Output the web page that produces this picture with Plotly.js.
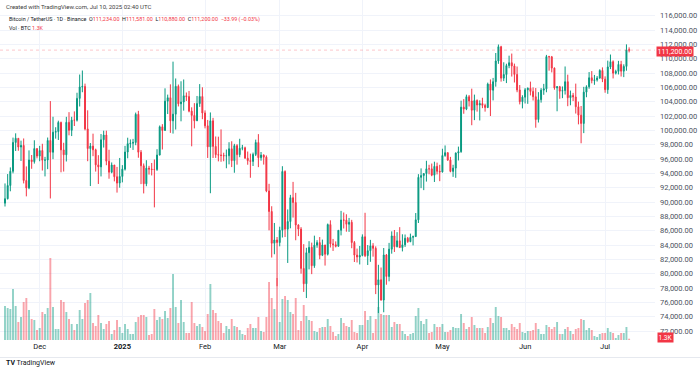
<!DOCTYPE html>
<html><head><meta charset="utf-8">
<script src="https://cdn.plot.ly/plotly-3.0.1.min.js"></script>
<style>html,body{margin:0;padding:0;background:#fff;}#chart{width:700px;height:369px;}</style>
</head><body><div id="chart"></div>
<script>
// BTC/USDT daily candles, 2024-11-18 .. 2025-07-10 (Binance)
const START_DATE = '2024-11-18';

const open = [
// Nov 18-30
89845,90464,92310,94287,98317,98892,97672,97900,93010,91965,95863,95643,97460,
// Dec
96407,97185,95840,95865,98587,96945,99740,99831,101109,97276,96593,101125,100000,101424,101420,104463,106058,106133,100204,97461,97805,97291,95187,94900,98692,99344,95704,94164,95163,93530,92643,
// Jan
93576,94591,96984,98141,98209,98314,102235,96954,95060,92552,94727,94600,94545,94536,96560,100497,99988,104077,104556,101331,102260,106143,103706,103960,104820,104714,102683,102087,101332,103733,104722,
// Feb
102429,100635,97700,101329,97763,96612,96554,96506,96444,96463,97430,95778,97869,96609,97500,97569,96118,95780,95671,96644,98305,96181,96551,96258,91552,88680,84250,84709,
// Mar
84349,86064,94270,86220,87281,90606,89931,86801,86222,80735,78595,82932,83680,81115,83983,84338,82574,84010,82715,86854,84167,84043,83832,86054,87498,87471,86900,87177,84353,82597,82334,
// Apr
82549,85158,82516,83213,83889,83537,78430,79163,76323,82615,79607,83424,85276,83760,84591,83643,84030,84947,84474,85077,85179,87516,93442,93691,93980,94638,94628,93750,94979,94284,
// May
94208,96489,96887,95856,94278,94733,96834,97032,103242,102971,104696,104106,102812,104170,103539,103744,103489,103191,106455,105606,106792,109678,111673,107287,107791,109035,109440,108994,107802,105641,103998,
// Jun
104638,105652,105882,105432,104696,101508,104289,105615,105793,110295,110257,108686,105929,106090,105473,105555,106794,104552,104886,104658,103297,102120,100964,105333,106083,107340,106947,107047,107297,108356,
// Jul 1-10
107147,105682,108850,109584,107985,108230,109203,108262,108922,111234
];

const high = [
92594,93905,94831,98988,99588,98893,98564,98871,94973,97208,96564,98619,97463,
97836,98130,96305,99000,104088,101898,100439,101351,101215,98270,101888,102540,101895,102650,105250,107793,108353,106524,102800,98233,99540,97448,96538,99487,99960,99963,97294,95525,95174,94903,96150,
95151,97839,98976,98734,98813,102482,102724,97258,95382,95837,95050,95450,95940,97371,100681,100866,105865,104988,106422,109588,107240,106394,106850,107100,105286,105500,103219,103800,104800,106457,106012,
102783,101456,102500,101746,99149,99120,100137,96881,97323,98346,98478,98119,98083,98826,97972,97725,97046,96753,96899,98711,99475,96980,96650,96500,92540,89414,87078,85120,
86558,95000,94416,88967,91000,92811,91283,86895,86500,84123,83617,84539,84336,85309,84676,85117,84756,84021,87000,87453,84850,84513,86094,88765,88539,88292,87786,87515,84567,83505,83870,
85487,88500,83998,84720,84266,83817,81243,80867,83588,82753,84300,85905,86100,85799,86496,85500,85470,85132,85595,85320,88465,93888,94696,94000,95758,95199,95369,95630,95500,95200,
97438,97896,96935,96304,95200,96920,97732,104145,104361,104984,104937,105819,104990,104323,104193,104550,103722,106660,107108,107320,110797,111980,111800,109500,109300,110422,110718,109313,108910,106325,104900,
105900,105983,106800,105998,105909,105333,105900,106488,110530,110400,110384,108780,106182,106208,106128,108915,107771,105550,105226,106524,104010,103400,106074,106290,108135,108272,107735,107577,108528,108789,
107540,109730,110580,109767,108460,109700,109700,109216,111999,111581
];

const low = [
89376,90357,91500,94000,97122,97156,95735,92600,90791,91792,94640,95364,96092,
95693,94395,93578,94587,90500,95981,98844,98657,94150,94256,95658,99311,99205,100609,101237,103333,105321,100000,95700,92232,96398,94250,92520,93574,97600,95137,93253,94014,92881,91317,92000,
92742,94392,96100,97562,97271,97926,96181,92500,91203,92206,93831,93711,89256,94346,96500,97335,99950,102277,99651,99550,100119,103339,101262,102750,104106,102520,97777,100272,101328,103278,101560,
100279,96150,91231,96150,96155,95676,95620,95688,94713,95256,94876,94088,95217,96252,97223,96055,95205,93388,95029,96415,94871,95770,95227,91371,86050,82256,82716,78258,
83824,85050,85117,81500,86335,87836,84667,85248,80000,77459,76606,80607,79939,80818,83618,82017,82457,81134,82547,83655,83175,83674,83794,85346,86310,85862,85837,83557,81634,81565,81293,
82429,82320,81211,81659,82379,77153,74508,76239,74620,78464,78936,82792,83034,83678,83600,83111,83736,84303,84400,83949,85144,87076,91935,91660,92855,93870,93602,92800,93858,92910,
94111,96318,95753,94151,93514,93378,95800,96876,102316,102818,103335,100718,101429,102614,101383,103100,102614,103105,102000,104184,106100,109285,106800,106875,106600,108670,107510,106681,105322,103621,103068,
103750,103703,104872,104167,100372,101095,103871,104964,105318,108331,108086,105671,102664,104411,104494,104997,103371,103500,104091,102345,100837,98200,99613,104622,105808,106562,106356,106811,107211,106733,
105250,105100,108550,107245,107800,107800,107513,107429,108324,110880
];

const close = [
90464,92310,94287,98317,98892,97672,97900,93010,91965,95863,95643,97460,96407,
97185,95840,95865,98587,96945,99740,99831,101109,97276,96593,101125,100000,101424,101420,104463,106058,106133,100204,97461,97805,97291,95187,94900,98692,99344,95704,94164,95163,93530,92643,93576,
94591,96984,98141,98209,98314,102235,96954,95060,92552,94727,94600,94545,94536,96560,100497,99988,104077,104556,101331,102260,106143,103706,103960,104820,104714,102683,102087,101332,103733,104722,102429,
100635,97700,101329,97763,96612,96554,96506,96444,96463,97430,95778,97869,96609,97500,97569,96118,95780,95671,96644,98305,96181,96551,96258,91552,88680,84250,84709,84349,
86064,94270,86220,87281,90606,89931,86801,86222,80735,78595,82932,83680,81115,83983,84338,82574,84010,82715,86854,84167,84043,83832,86054,87498,87471,86900,87177,84353,82597,82334,82549,
85158,82516,83213,83889,83537,78430,79163,76323,82615,79607,83424,85276,83760,84591,83643,84030,84947,84474,85077,85179,87516,93442,93691,93980,94638,94628,93750,94979,94284,94208,
96489,96887,95856,94278,94733,96834,97032,103242,102971,104696,104106,102812,104170,103539,103744,103489,103191,106455,105606,106792,109678,111673,107287,107791,109035,109440,108994,107802,105641,103998,104638,
105652,105882,105432,104696,101508,104289,105615,105793,110295,110257,108686,105929,106090,105473,105555,106794,104552,104886,104658,103297,102120,100964,105333,106083,107340,106947,107047,107297,108356,107147,
105682,108850,109584,107985,108230,109203,108262,108922,111234,111200
];

// Volume, thousands of BTC
const volumeK = [
34,32,31,51,34,18,23,38,42,30,21,20,10,
12,28,26,32,82,33,11,11,40,38,28,21,16,10,16,30,21,37,40,47,17,14,25,17,11,16,19,6,10,20,13,
7,16,11,6,6,18,23,25,25,23,5,6,31,20,23,21,29,22,32,66,33,17,40,18,7,7,38,17,14,16,13,
9,26,56,30,27,19,17,7,14,11,21,14,13,10,6,5,12,16,12,12,23,9,8,23,58,42,31,62,
18,41,44,40,28,26,42,10,19,35,24,20,19,9,8,12,13,13,21,14,8,4,6,22,17,14,13,20,8,7,15,
15,29,20,24,7,21,33,26,25,25,25,13,18,16,16,9,6,4,6,7,24,32,19,16,21,7,8,16,13,13,
16,8,8,10,13,12,12,26,17,11,13,23,15,12,12,12,7,13,22,17,33,24,23,12,12,10,16,13,11,17,8,
7,9,9,10,17,11,6,6,15,13,11,13,18,6,6,11,13,9,6,11,12,21,20,10,12,10,4,3,6,7,
7,12,8,7,2,5,7,7,13,1.3
];

const monthTicks = ['2024-12-01','2025-01-01','2025-02-01','2025-03-01','2025-04-01','2025-05-01','2025-06-01','2025-07-01'];
const monthLabels = ['Dec','<b>2025</b>','Feb','Mar','Apr','May','Jun','Jul'];
const priceTicks = [72000,74000,76000,78000,80000,82000,84000,86000,88000,90000,92000,94000,96000,98000,100000,102000,104000,106000,108000,110000,112000,114000,116000];

const lastPrice = 111200;
const header1 = 'Created with TradingView.com, Jul 10, 2025 02:40 UTC';
const symbolText = 'Bitcoin / TetherUS · 1D · Binance';
const ohlcText = {O:'111,234.00', H:'111,581.00', L:'110,880.00', C:'111,200.00', chg:'−33.99 (−0.03%)'};
const volLabel = 'Vol · BTC';
const volLast = '1.3K';

// dates
const dates = [];
{ const d = new Date(START_DATE + 'T00:00:00Z');
  for (let i = 0; i < close.length; i++) { dates.push(d.toISOString().slice(0,10)); d.setUTCDate(d.getUTCDate()+1); } }

const UP = '#089981', DOWN = '#F23645';
const volColors = close.map((c,i) => c >= open[i] ? 'rgba(8,153,129,0.45)' : 'rgba(242,54,69,0.45)');

const PLOT_W = 655, PLOT_H = 340;
const PX = p => p / PLOT_W;
const PY = p => 1 - p / PLOT_H;

const RED = DOWN;
const sp = t => '<span style="color:' + RED + '">' + t + '</span>';
const gap = '\u00A0\u00A0';

const traces = [
  { type:'bar', x:dates, y:volumeK, yaxis:'y', marker:{color:volColors, line:{width:0}}, hoverinfo:'skip' },
  { type:'candlestick', x:dates, open:open, high:high, low:low, close:close, yaxis:'y2',
    increasing:{line:{color:UP, width:1}, fillcolor:UP},
    decreasing:{line:{color:DOWN, width:1}, fillcolor:DOWN},
    whiskerwidth:0, hoverinfo:'skip' }
];

const layout = {
  width:700, height:369,
  margin:{l:0, r:45, t:0, b:29, pad:0},
  paper_bgcolor:'#ffffff', plot_bgcolor:'#ffffff',
  showlegend:false,
  bargap:0.28, boxgap:0.5,
  font:{family:'Roboto, "Noto Sans", sans-serif', size:7.5, color:'#131722'},
  xaxis:{type:'date', range:['2024-11-16 03:00:00','2025-07-19 17:00:00'],
    rangeslider:{visible:false}, tickmode:'array', tickvals:monthTicks, ticktext:monthLabels,
    showgrid:true, gridcolor:'#f0f3fa', gridwidth:1, zeroline:false, showline:false, ticks:'',
    tickfont:{size:7.5, color:'#131722'}, fixedrange:true},
  yaxis:{range:[0,340], visible:false, showgrid:false, zeroline:false, fixedrange:true},
  yaxis2:{overlaying:'y', side:'right', range:[70751,118190], tickmode:'array', tickvals:priceTicks,
    tickformat:',.2f', showgrid:true, gridcolor:'#f0f3fa', gridwidth:1, zeroline:false, showline:false,
    ticks:'', ticklabelstandoff:4, tickfont:{size:7.5, color:'#4c525e'}, fixedrange:true},
  shapes:[
    {type:'line', xref:'paper', x0:0, x1:1, yref:'y2', y0:lastPrice, y1:lastPrice,
     line:{color:'rgba(242,54,69,0.28)', width:1, dash:'dot'}},
    {type:'line', xref:'paper', x0:0, x1:PX(700), yref:'paper', y0:PY(357.5), y1:PY(357.5),
     line:{color:'#e6e9ef', width:1}}
  ],
  annotations:[
    {text:header1, xref:'paper', yref:'paper', x:PX(4), y:PY(6.5), xanchor:'left', yanchor:'middle',
     showarrow:false, font:{size:6, color:'#3d3d3d'}},
    {text: symbolText + gap + 'O' + sp(ohlcText.O) + gap + 'H' + sp(ohlcText.H) + gap + 'L' + sp(ohlcText.L) + gap + 'C' + sp(ohlcText.C) + gap + sp(ohlcText.chg),
     xref:'paper', yref:'paper', x:PX(7), y:PY(19.5), xanchor:'left', yanchor:'middle',
     showarrow:false, font:{size:5.4, color:'#131722'}},
    {text: volLabel + '\u00A0' + sp(volLast), xref:'paper', yref:'paper', x:PX(7), y:PY(27.7), xanchor:'left', yanchor:'middle',
     showarrow:false, font:{size:5.4, color:'#131722'}},
    {text: lastPrice.toLocaleString('en-US',{minimumFractionDigits:2}), xref:'paper', yref:'y2', x:1, y:lastPrice,
     xanchor:'left', yanchor:'middle', xshift:1, yshift:-1, showarrow:false, bgcolor:RED, borderpad:0.5,
     font:{size:7, color:'#ffffff'}},
    {text: volLast, xref:'paper', yref:'paper', x:1, y:PY(337.5), xanchor:'left', yanchor:'middle', xshift:2,
     showarrow:false, bgcolor:RED, borderpad:0.5, font:{size:6.5, color:'#ffffff'}},
    {text:'<b>TV</b> TradingView', xref:'paper', yref:'paper', x:PX(4), y:PY(362.5), xanchor:'left', yanchor:'middle',
     showarrow:false, font:{size:7, color:'#131722'}}
  ]
};

Plotly.newPlot('chart', traces, layout, {staticPlot:true, displayModeBar:false});
</script>
</body></html>
